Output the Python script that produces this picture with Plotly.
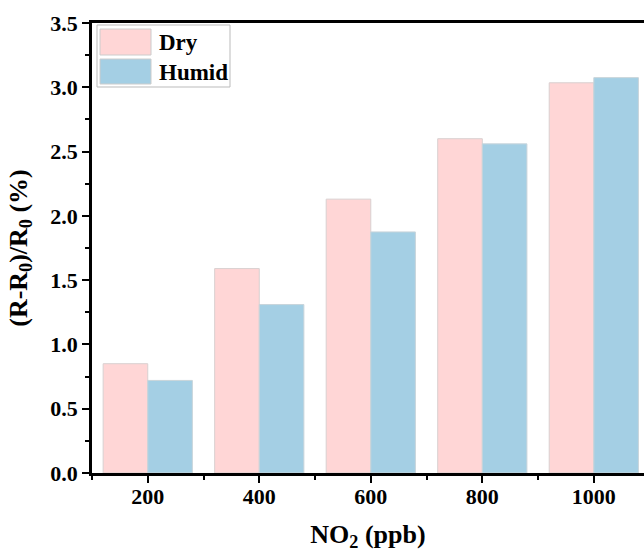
import plotly.graph_objects as go

categories = ["200", "400", "600", "800", "1000"]
dry = [0.85, 1.59, 2.13, 2.60, 3.035]
humid = [0.72, 1.31, 1.875, 2.56, 3.075]
series_names = ["Dry", "Humid"]
series_colors = ["#FFD6D6", "#A4CFE4"]
edge_colors = ["#D9D0D0", "#C8D4DA"]

x_pos = list(range(len(categories)))
FONT = "Times New Roman, Liberation Serif, serif"

fig = go.Figure()
for name, vals, col, ec in zip(series_names, [dry, humid], series_colors, edge_colors):
    fig.add_trace(go.Bar(x=x_pos, y=vals, name=name, showlegend=False,
                         marker=dict(color=col, line=dict(color=ec, width=1))))

# plot-area geometry (px) for the hand-drawn legend
L, R, T, B = 92, 644, 23, 473
def px_x(p): return (p - L) / (R - L)
def px_y(p): return (B - p) / (B - T)

shapes = [dict(type="rect", xref="paper", yref="paper",
               x0=px_x(97), x1=px_x(230), y0=px_y(87), y1=px_y(25),
               line=dict(color="#BBBBBB", width=1), fillcolor="white", layer="above")]
rows = [(29, 55, 42), (59, 84, 72)]
annotations = []
for (top, bot, mid), name, col, ec in zip(rows, series_names, series_colors, edge_colors):
    shapes.append(dict(type="rect", xref="paper", yref="paper",
                       x0=px_x(100), x1=px_x(151), y0=px_y(bot), y1=px_y(top),
                       line=dict(color="#CCCCCC", width=1), fillcolor=col, layer="above"))
    annotations.append(dict(xref="paper", yref="paper", x=px_x(157), y=px_y(mid),
                            xanchor="left", yanchor="middle", text=name, showarrow=False,
                            font=dict(size=23, family=FONT, weight="bold", color="black")))

fig.update_layout(
    width=644, height=552,
    margin=dict(l=L, r=644 - R, t=T, b=552 - B),
    plot_bgcolor="white", paper_bgcolor="white",
    barmode="group", bargap=0.2, bargroupgap=0,
    font=dict(family=FONT, size=22, color="black", weight="bold"),
    showlegend=False,
    shapes=shapes, annotations=annotations,
)
fig.update_xaxes(
    range=[-0.5, 4.45], tickmode="array", tickvals=x_pos, ticktext=categories,
    showline=True, linecolor="black", linewidth=2.5, mirror=True,
    ticks="outside", ticklen=7, tickwidth=2, tickcolor="black",
    minor=dict(tickmode="linear", tick0=0.5, dtick=1, ticks="outside", ticklen=4, tickwidth=2, tickcolor="black"),
    showgrid=False, zeroline=False, automargin=False, ticklabelstandoff=-5,
    tickfont=dict(size=22, family=FONT, weight="bold"),
    title=dict(text="NO<sub>2</sub> (ppb)", font=dict(size=26, family=FONT, weight="bold"), standoff=32),
)
fig.update_yaxes(
    range=[0, 3.5], tickmode="linear", tick0=0, dtick=0.5, tickformat=".1f",
    showline=True, linecolor="black", linewidth=2.5,
    ticks="outside", ticklen=7, tickwidth=2, tickcolor="black",
    minor=dict(tickmode="linear", tick0=0.25, dtick=0.5, ticks="outside", ticklen=4, tickwidth=2, tickcolor="black"),
    showgrid=False, zeroline=False, automargin=False,
    tickfont=dict(size=22, family=FONT, weight="bold"),
    title=dict(text="(R-R<sub>0</sub>)/R<sub>0</sub> (%)", font=dict(size=26, family=FONT, weight="bold"), standoff=16),
)

fig.write_html("out.html", config={"displayModeBar": False},
               post_script="document.body.style.margin='0';document.body.style.padding='0';")
